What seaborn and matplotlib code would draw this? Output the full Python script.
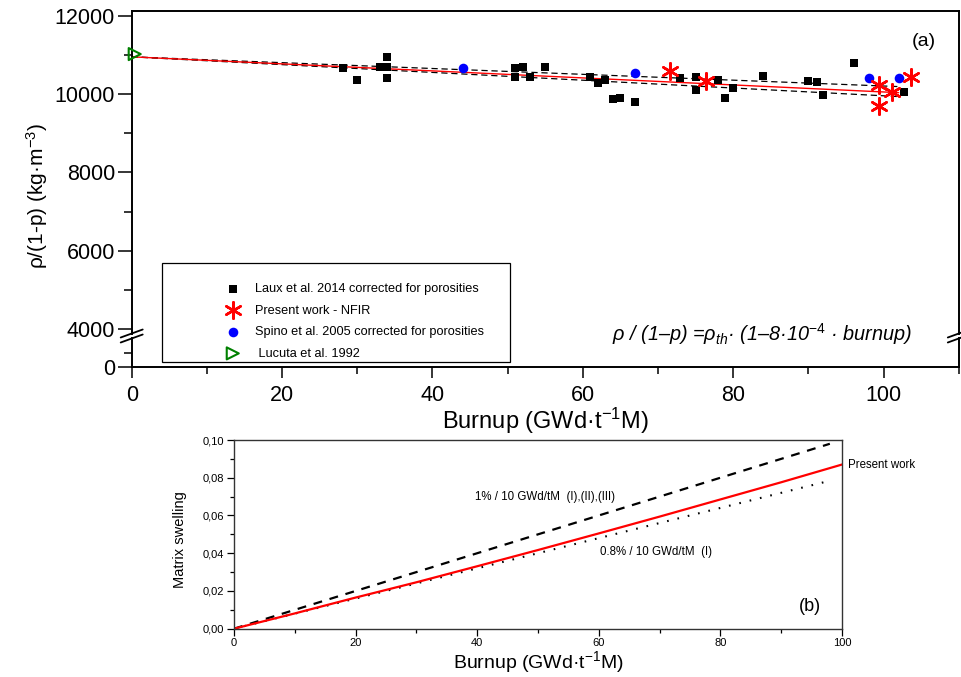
import matplotlib
matplotlib.use("Agg")
import matplotlib.pyplot as plt
import matplotlib.ticker as mticker
from matplotlib.patches import Rectangle
from matplotlib.lines import Line2D
import seaborn as sns

sns.set_style("ticks")
plt.rcParams['font.family'] = ['Liberation Sans', 'DejaVu Sans']
plt.rcParams['mathtext.fontset'] = 'custom'
plt.rcParams['mathtext.rm'] = 'Liberation Sans'
plt.rcParams['mathtext.it'] = 'Liberation Sans:italic'
plt.rcParams['mathtext.bf'] = 'Liberation Sans:bold'
for key in ['text.color', 'xtick.color', 'ytick.color', 'axes.labelcolor']:
    plt.rcParams[key] = 'black'

#%%
# Data (a): density corrected for porosity vs burnup
laux_bu = [28.1, 30.0, 33.0, 34.0, 34.0, 34.0, 51.0, 51.0, 52.0, 53.0, 55.0,
           61.0, 62.0, 62.9, 64.0, 65.0, 66.9, 72.9, 75.0, 75.0, 78.0, 78.9,
           80.0, 84.0, 90.0, 91.1, 92.0, 96.0, 102.7]
laux_rho = [10672, 10358, 10698, 10953, 10682, 10417, 10657, 10442, 10698, 10442, 10682,
            10442, 10273, 10358, 9873, 9891, 9804, 10401, 10442, 10103, 10358, 9906,
            10146, 10460, 10340, 10315, 9975, 10784, 10059]

nfir_bu = [71.6, 76.4, 99.4, 99.4, 101.1, 103.6]
nfir_rho = [10596, 10340, 10230, 9694, 10059, 10442]

spino_bu = [44.0, 66.9, 98.0, 102.0]
spino_rho = [10657, 10529, 10417, 10401]

lucuta_bu = [0.4]
lucuta_rho = [11020]

fit_bu = [0, 102]
fit_rho = [10950, 10035]
fit_hi = [10950, 10190]
fit_lo = [10950, 9935]

# Data (b): matrix swelling vs burnup
sw_bu = [0, 10, 20, 30, 40, 50, 60, 70, 80, 90, 100]
sw_present = [0, 0.0081, 0.0165, 0.0246, 0.0331, 0.0417, 0.0505, 0.0594, 0.0685, 0.0776, 0.0870]
ref_bu = [0, 20, 40, 60, 80, 98]
sw_1pct = [0, 0.020, 0.040, 0.060, 0.080, 0.098]
sw_08pct = [0, 0.016, 0.032, 0.048, 0.064, 0.0784]

#%%
W, H = 961, 677
fig = plt.figure(figsize=(W / 100, H / 100), dpi=100)


def box(x0, y0, x1, y1):
    return [x0 / W, 1 - y1 / H, (x1 - x0) / W, (y1 - y0) / H]


ax_top = fig.add_axes(box(131.7, 10.7, 958.8, 334))
ax_low = fig.add_axes(box(131.7, 338, 958.8, 367.3))
ax_b = fig.add_axes(box(234, 440, 842, 628.7))

# --- panel (a), upper part
sns.lineplot(x=fit_bu, y=fit_hi, ax=ax_top, color='black', linewidth=0.9, linestyle=(0, (5, 3)))
sns.lineplot(x=fit_bu, y=fit_lo, ax=ax_top, color='black', linewidth=0.9, linestyle=(0, (5, 3)))
sns.lineplot(x=fit_bu, y=fit_rho, ax=ax_top, color='red', linewidth=1.0)

sns.scatterplot(x=laux_bu, y=laux_rho, ax=ax_top, marker='s', s=36, color='black',
                edgecolor='black', linewidth=0, zorder=4,
                label='Laux et al. 2014 corrected for porosities')
sns.scatterplot(x=nfir_bu, y=nfir_rho, ax=ax_top, marker=(6, 2, 0), s=140, color='red',
                linewidth=1.8, zorder=5, label='Present work - NFIR')
sns.scatterplot(x=spino_bu, y=spino_rho, ax=ax_top, marker='o', s=48, color='blue',
                edgecolor='blue', linewidth=0, zorder=4,
                label='Spino et al. 2005 corrected for porosities')
sns.scatterplot(x=lucuta_bu, y=lucuta_rho, ax=ax_top, marker='>', s=75, facecolor='none',
                edgecolor='green', linewidth=1.5, zorder=6, clip_on=False,
                label=' Lucuta et al. 1992')

handles, labels = ax_top.get_legend_handles_labels()
ax_top.get_legend().remove()

ax_top.set_xlim(0, 110)
ax_top.set_ylim(3872, 12128)
ax_top.set_yticks([4000, 6000, 8000, 10000, 12000])
ax_top.yaxis.set_minor_locator(mticker.MultipleLocator(1000))
ax_top.tick_params(axis='y', which='major', length=10, width=1.1, labelsize=15.5, pad=2)
ax_top.tick_params(axis='y', which='minor', length=6, width=1.1)
ax_top.tick_params(axis='x', which='both', bottom=False, labelbottom=False)
ax_top.spines['bottom'].set_visible(False)
for s in ['left', 'top', 'right']:
    ax_top.spines[s].set_linewidth(1.4)
    ax_top.spines[s].set_color('black')
ax_top.set_xlabel('')
ax_top.set_ylabel('')

# --- panel (a), lower part below the break
ax_low.set_xlim(0, 110)
ax_low.set_ylim(0, 2000)
ax_low.set_yticks([0])
ax_low.yaxis.set_minor_locator(mticker.FixedLocator([1000]))
ax_low.set_xticks([0, 20, 40, 60, 80, 100])
ax_low.xaxis.set_minor_locator(mticker.MultipleLocator(10))
ax_low.tick_params(axis='y', which='major', length=10, width=1.1, labelsize=15.5, pad=2)
ax_low.tick_params(axis='y', which='minor', length=6, width=1.1)
ax_low.tick_params(axis='x', which='major', length=8, width=1.1, labelsize=15.5, pad=5)
ax_low.tick_params(axis='x', which='minor', length=5, width=1.1)
ax_low.spines['top'].set_visible(False)
for s in ['left', 'bottom', 'right']:
    ax_low.spines[s].set_linewidth(1.4)
    ax_low.spines[s].set_color('black')
ax_low.patch.set_alpha(0)

# break marks
for xc in (131.7, 958.8):
    for dy in (-2.5, 2.5):
        fig.add_artist(Line2D([(xc - 11) / W, (xc + 11) / W],
                              [1 - (336 + dy + 4) / H, 1 - (336 + dy - 4) / H],
                              color='black', linewidth=1.3))

fig.text(37 / W, 1 - 196 / H, r'ρ/(1-p) (kg·m$^{-3}$)', rotation=90,
         ha='center', va='center', fontsize=15)
fig.text(545 / W, 1 - 421 / H, r'Burnup (GWd·t$^{-1}$M)', ha='center', va='center', fontsize=17)
ax_top.text(0.972, 0.905, '(a)', transform=ax_top.transAxes, ha='right', va='center', fontsize=14)
fig.text(612 / W, 1 - 334 / H, r'ρ / (1–p) =ρ$_{th}$· (1–8·10$^{-4}$ · burnup)',
         ha='left', va='center', fontsize=14.3, style='italic')

# legend box
fig.add_artist(Rectangle((162 / W, 1 - 362 / H), 348 / W, 99 / H, transform=fig.transFigure,
                         facecolor='white', edgecolor='black', linewidth=0.9, zorder=3))
leg = fig.legend(handles, labels, loc='upper left', bbox_to_anchor=(227 / W, 1 - 283 / H),
                 frameon=False, fontsize=9.2, handlelength=0.9, handletextpad=1.3,
                 labelspacing=0.75, borderpad=0, borderaxespad=0)
leg.set_zorder(4)

# --- panel (b)
sns.lineplot(x=ref_bu, y=sw_1pct, ax=ax_b, color='black', linewidth=1.6, linestyle=(0, (4, 3.5)))
sns.lineplot(x=ref_bu, y=sw_08pct, ax=ax_b, color='black', linewidth=1.5, linestyle=(0, (0.8, 4.3)))
sns.lineplot(x=sw_bu, y=sw_present, ax=ax_b, color='red', linewidth=1.6)

ax_b.set_xlim(0, 100)
ax_b.set_ylim(0, 0.10)
ax_b.set_xticks([0, 20, 40, 60, 80, 100])
ax_b.xaxis.set_minor_locator(mticker.MultipleLocator(10))
ax_b.set_yticks([0, 0.02, 0.04, 0.06, 0.08, 0.10])
ax_b.yaxis.set_minor_locator(mticker.MultipleLocator(0.01))
ax_b.yaxis.set_major_formatter(mticker.FuncFormatter(lambda v, p: f'{v:.2f}'.replace('.', ',')))
ax_b.tick_params(axis='both', which='major', length=5, width=0.9, labelsize=8, pad=2)
ax_b.tick_params(axis='both', which='minor', length=3, width=0.9)
for s in ax_b.spines.values():
    s.set_linewidth(1.0)
    s.set_color('#333333')
ax_b.set_xlabel('')
ax_b.set_ylabel('')

fig.text(180 / W, 1 - 540 / H, 'Matrix swelling', rotation=90, ha='center', va='center', fontsize=10.5)
fig.text(538 / W, 1 - 662 / H, r'Burnup (GWd·t$^{-1}$M)', ha='center', va='center', fontsize=14)
fig.text(848 / W, 1 - 465 / H, 'Present work', ha='left', va='center', fontsize=8.3)
fig.text(475 / W, 1 - 497 / H, '1% / 10 GWd/tM  (I),(II),(III)', ha='left', va='center', fontsize=8.3)
fig.text(600 / W, 1 - 552 / H, '0.8% / 10 GWd/tM  (I)', ha='left', va='center', fontsize=8.3)
ax_b.text(0.965, 0.12, '(b)', transform=ax_b.transAxes, ha='right', va='center', fontsize=13)

fig.savefig('out.png', dpi=100)
